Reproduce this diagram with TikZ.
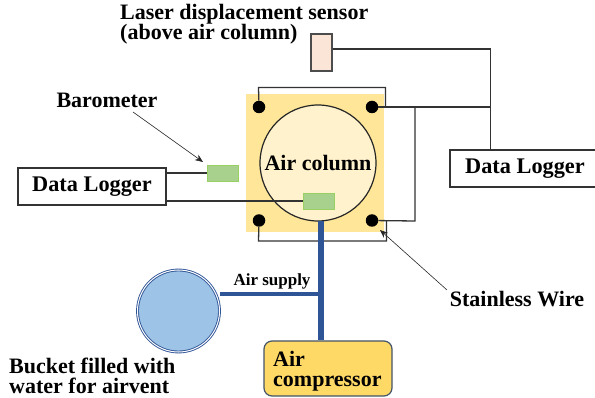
\documentclass[tikz,border=0pt]{standalone}
\usepackage{fontspec}
\setmainfont{Liberation Serif}
\usepackage{tikz}
\usetikzlibrary{arrows.meta}
\definecolor{mountyellow}{HTML}{FFE699}
\definecolor{columnyellow}{HTML}{FFF2CC}
\definecolor{sensorpink}{HTML}{FBE5D6}
\definecolor{sensorgreen}{HTML}{A9D18E}
\definecolor{sensoredge}{HTML}{92D050}
\definecolor{pipeblue}{HTML}{2F5597}
\definecolor{waterblue}{HTML}{9DC3E6}
\definecolor{compyellow}{HTML}{FFD966}
\definecolor{compedge}{HTML}{44546A}

\begin{document}
\begin{tikzpicture}[x=1pt,y=-1pt]
	 \tikzstyle{caption}=[inner sep=0pt,font=\bfseries\fontsize{22}{20}\selectfont]
	 \tikzstyle{smallcaption}=[inner sep=0pt,font=\bfseries\fontsize{17}{18}\selectfont]
	 \tikzstyle{logger}=[rectangle,draw=black!80,line width=1.3pt,minimum height=37pt,inner sep=0pt,font=\bfseries\fontsize{22.3}{22}\selectfont]
	 \tikzstyle{greenbox}=[rectangle,draw=sensoredge!70!sensorgreen,fill=sensorgreen,line width=0.8pt,minimum width=31pt,minimum height=16pt,inner sep=0pt]
	 \tikzstyle{dot}=[circle,fill=black,minimum size=12.5pt,inner sep=0pt]
	 \tikzstyle{wire} = [draw,line width=1.3pt,-,black!80]
	 \tikzstyle{pipe} = [draw,-,pipeblue]
	 \tikzstyle{pointer} = [draw,line width=0.6pt,-{Stealth[length=8pt,width=6.5pt]},black!85]
	 \useasboundingbox (0,0) rectangle (595,398);
	 \node[rectangle,fill=mountyellow,minimum width=138pt,minimum height=138pt,inner sep=0pt] (mount) at (315.25,163) {};
	 \node[circle,draw=black!85,fill=columnyellow,line width=1.2pt,minimum size=116pt,inner sep=0pt] (column) at (318,163) {};
	 \node[caption] (columntext) at (318,163) {Air column};
	 \node[rectangle,draw=black!70,fill=sensorpink,line width=1.2pt,minimum width=21pt,minimum height=37pt,inner sep=0pt] (laser) at (321.5,52.5) {};
	 \node[caption,anchor=west,align=left] (lasertext) at (120,24.5) {Laser displacement sensor\\(above air column)};
	 \node[dot] (d1) at (259,107) {};
	 \node[dot] (d2) at (372,107) {};
	 \node[dot] (d3) at (259,220.5) {};
	 \node[dot] (d4) at (372,220.5) {};
	 \node[logger,minimum width=150pt] (loggerr) at (525,168.5) {Data Logger};
	 \node[logger,minimum width=148pt] (loggerl) at (92,186.5) {Data Logger};
	 \node[greenbox] (baro) at (223,173) {};
	 \node[greenbox] (inner) at (319,201) {};
	 \node[caption] (barotext) at (107,100) {Barometer};
	 \node[caption] (wiretext) at (517,299) {Stainless Wire};
	 \node[smallcaption] (supplytext) at (272,281) {Air supply};
	 \node[caption,anchor=west,align=left] (buckettext) at (9,376) {Bucket filled with\\water for airvent};
	 \node[rectangle,draw=compedge,fill=compyellow,rounded corners=8pt,line width=1.2pt,minimum width=128pt,minimum height=55pt,inner sep=0pt] (comp) at (328,368.5) {};
	 \node[caption,anchor=west,align=left] (comptext) at (273,371.5) {Air\\compressor};
	 \node[circle,draw=pipeblue,fill=waterblue,double=white,line width=0.9pt,double distance=1pt,minimum size=82pt,inner sep=0pt] (bucket) at (178.5,311) {};
	 \coordinate (c1) at (258.5,87.5);
	 \coordinate (c2) at (385.5,87.5);
	 \coordinate (c3) at (385.5,107);
	 \coordinate (c4) at (415,107);
	 \coordinate (c5) at (415,221);
	 \coordinate (c6) at (386.5,221);
	 \coordinate (c7) at (386.5,241);
	 \coordinate (c8) at (258.5,241);
	 \coordinate (c9) at (490.5,107);
	 \coordinate (c10) at (490.5,49);
	 \coordinate (c11) at (321,221);
	 \coordinate (c12) at (321,294);
	 \coordinate (s1) at (133,112);
	 \coordinate (s2) at (447,290);
	 \coordinate (s3) at (380,230);
	 \coordinate (s4) at (203,162);
	 \draw[wire] (d1) -- (c1) -- (c2) -- (c3);
	 \draw[wire] (d2) -- (c9);
	 \draw[wire] (c4) -- (c5) -- (d4);
	 \draw[wire] (c6) -- (c7) -- (c8) -- (d3);
	 \draw[wire] (laser.east |- c10) -- (c10) -- (loggerr.north -| c10);
	 \draw[wire] (loggerl.east |- baro) -- (baro);
	 \draw[wire] (loggerl.east |- inner) -- (inner);
	 \draw[pipe,line width=5.5pt] (c11) -- (comp.north -| c11);
	 \draw[pipe,line width=4.5pt] (bucket.east |- c12) -- (c12);
	 \draw[pointer] (s1) -- (s4);
	 \draw[pointer] (s2) -- (s3);
\end{tikzpicture}
\end{document}
